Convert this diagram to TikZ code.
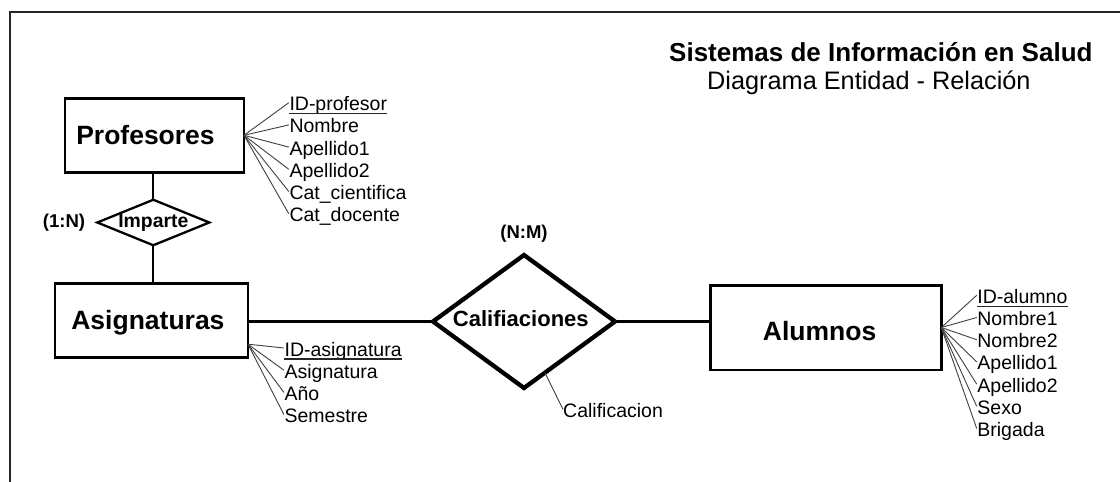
\documentclass[tikz,border=0pt]{standalone}
\usepackage{fontspec}
\setmainfont{Liberation Sans}
\usetikzlibrary{shapes.geometric,calc}
\begin{document}
\begin{tikzpicture}[x=1pt,y=-1pt,
  entity/.style={draw, rectangle, line width=2.5pt, inner sep=0pt, outer sep=0pt},
  relation/.style={draw, diamond, inner sep=0pt, outer sep=0pt},
  ename/.style={font=\bfseries\fontsize{26.5}{30}\selectfont, inner sep=0pt, anchor=base},
  rname/.style={font=\bfseries\fontsize{19.4}{22}\selectfont, inner sep=0pt, anchor=base},
  attr/.style={font=\fontsize{19.5}{22}\selectfont, inner sep=0pt, anchor=base west},
  fan/.style={draw=black!75, line width=0.9pt},
  link/.style={draw, line width=2.3pt},
  keyline/.style={draw=black!85, line width=1.2pt}]
\useasboundingbox (0,0) rectangle (1120,482);
\fill[white] (0,0) rectangle (1120,482);
% frame
\draw[line width=2pt, black!85] (9.5,482) -- (9.5,11.5) -- (1120,11.5);
% titles
\node[font=\bfseries\fontsize{26}{30}\selectfont, anchor=base west, inner sep=0pt] (title) at (669,61.3) {Sistemas de Información en Salud};
\node[font=\fontsize{25.3}{30}\selectfont, anchor=base west, inner sep=0pt] (subtitle) at (707,89.5) {Diagrama Entidad - Relación};
% entities
\node[entity, minimum width=179, minimum height=74] (prof) at (154.5,135.3) {};
\node[ename] (proft) at (145.5,144.5) {Profesores};
\node[entity, minimum width=193, minimum height=74] (asig) at (151.5,320.5) {};
\node[ename] (asigt) at (147.9,329.5) {Asignaturas};
\node[entity, minimum width=231, minimum height=84.5] (alum) at (825.8,327.5) {};
\node[ename] (alumt) at (819.6,340) {Alumnos};
% relations
\node[relation, line width=2.3pt, minimum width=112, minimum height=45.5] (imp) at (153.3,222.5) {};
\node[rname] (impt) at (153.3,227) {Imparte};
\node[rname, font=\bfseries\fontsize{18.6}{22}\selectfont] (card1) at (64,227) {(1:N)};
\node[relation, line width=4.3pt, minimum width=182, minimum height=133] (cal) at (524,321.5) {};
\node[rname, font=\bfseries\fontsize{22}{26}\selectfont] (calt) at (520.8,326) {Califiaciones};
\node[rname, font=\bfseries\fontsize{18.5}{22}\selectfont] (card2) at (524,238.3) {(N:M)};
% links
\draw[link] (imp.north) -- (imp.north |- prof.south);
\draw[link] (imp.south) -- (imp.south |- asig.north);
\draw[link] (asig.east |- cal.west) -- (cal.west);
\draw[link] (cal.east) -- (cal.east -| alum.west);
% attributes of Profesores
\node[attr] (pa1) at (289.3,110.7) {ID-profesor};
\node[attr] (pa2) at (289.3,132.9) {Nombre};
\node[attr] (pa3) at (289.3,155.1) {Apellido1};
\node[attr] (pa4) at (289.3,177.3) {Apellido2};
\node[attr] (pa5) at (289.3,199.5) {Cat\_cientifica};
\node[attr] (pa6) at (289.3,221.7) {Cat\_docente};
\draw[keyline] ($(pa1.base west)+(0,3)$) -- ($(pa1.base east)+(0,3)$);
\foreach \i in {1,...,6} \draw[fan] (prof.east) -- ($(pa\i.base west)+(-0.5,-8)$);
% attributes of Asignaturas
\coordinate (asigfan) at ($(asig.east)!0.64!(asig.south east)$);
\node[attr] (aa1) at (284.4,356) {ID-asignatura};
\node[attr] (aa2) at (284.4,378.2) {Asignatura};
\node[attr] (aa3) at (284.4,400.4) {Año};
\node[attr] (aa4) at (284.4,422.6) {Semestre};
\draw[keyline] ($(aa1.base west)+(0,3)$) -- ($(aa1.base east)+(0,3)$);
\foreach \i in {1,...,4} \draw[fan] (asigfan) -- ($(aa\i.base west)+(-0.5,-8)$);
% attributes of Alumnos
\node[attr] (la1) at (977.2,303.3) {ID-alumno};
\node[attr] (la2) at (977.2,325.5) {Nombre1};
\node[attr] (la3) at (977.2,347.7) {Nombre2};
\node[attr] (la4) at (977.2,369.9) {Apellido1};
\node[attr] (la5) at (977.2,392.1) {Apellido2};
\node[attr] (la6) at (977.2,414.3) {Sexo};
\node[attr] (la7) at (977.2,436.5) {Brigada};
\draw[keyline] ($(la1.base west)+(0,3)$) -- ($(la1.base east)+(0,3)$);
\foreach \i in {1,...,7} \draw[fan] (alum.east) -- ($(la\i.base west)+(-0.5,-8)$);
% attribute of Califiaciones
\node[attr] (calf) at (563,417.5) {Calificacion};
\draw[fan] ($(cal.south)!0.23!(cal.east)$) -- ($(calf.base west)+(0,-8)$);
\end{tikzpicture}
\end{document}
